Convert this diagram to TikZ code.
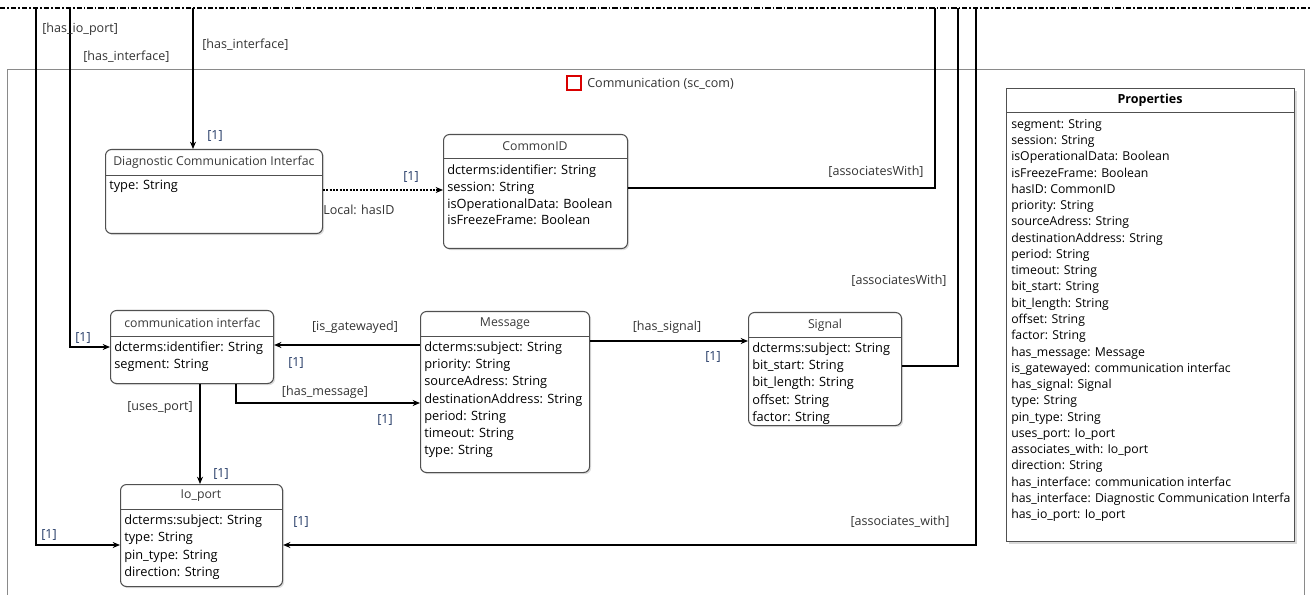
\documentclass[tikz,border=0pt]{standalone}
\usepackage{fontspec}
\setmainfont{Open Sans}
\usetikzlibrary{arrows.meta,shadows}
\definecolor{edgegray}{HTML}{505050}
\definecolor{titlegray}{HTML}{3A3A3A}
\definecolor{labelgray}{HTML}{333333}
\definecolor{multblue}{HTML}{243A66}
\definecolor{framegray}{HTML}{8A8A8A}
\tikzset{
  umlbox/.style={draw=edgegray, line width=0.8pt, rounded corners=4.5pt, fill=white,
    inner sep=0pt, anchor=north west,
    drop shadow={shadow xshift=1.2pt, shadow yshift=-1.2pt, opacity=0.25}},
  propbox/.style={draw=edgegray, line width=0.8pt, fill=white, inner sep=0pt, anchor=north west,
    drop shadow={shadow xshift=1.5pt, shadow yshift=-1.5pt, opacity=0.3}},
  divider/.style={draw=edgegray, line width=0.6pt},
  boxtitle/.style={inner sep=0pt, text=titlegray, font=\fontsize{9.2}{11}\selectfont},
  attr/.style={inner sep=0pt, anchor=base west, text=black, font=\fontsize{9.6}{11}\selectfont},
  pattr/.style={attr, font=\fontsize{9.2}{11}\selectfont},
  lbl/.style={inner sep=0pt, text=labelgray, font=\fontsize{9.4}{11}\selectfont},
  mult/.style={inner sep=0pt, text=multblue, font=\fontsize{9.4}{11}\selectfont},
  conn/.style={draw=black, line width=1.5pt},
  arr/.style={conn, -{Stealth[length=5.5pt,width=4.5pt]}},
}
\begin{document}
\begin{tikzpicture}[x=0.75pt,y=-0.75pt]
\useasboundingbox (0,0) rectangle (1310,595);

% package frame and its header
\draw[framegray, line width=0.7pt] (7,600) -- (7,69) -- (1304,69) -- (1304,600);
\node[draw=red!85!black, line width=1.4pt, minimum size=11pt, inner sep=0pt] (pkgicon) at (574,83) {};
\node[lbl, anchor=west] (pkgname) at (587,84) {Communication (sc\_com)};

% top boundary
\draw[black, line width=1.2pt, dash pattern=on 4pt off 1.5pt on 1.2pt off 1.5pt] (0,8) -- (1310,8);

% classes
\node[umlbox, minimum width=217*0.75pt, minimum height=84*0.75pt] (diag) at (105,149) {};
\node[umlbox, minimum width=184*0.75pt, minimum height=114*0.75pt] (cid) at (443,134) {};
\node[umlbox, minimum width=163*0.75pt, minimum height=73*0.75pt] (ci) at (110,310) {};
\node[umlbox, minimum width=169*0.75pt, minimum height=161*0.75pt] (msg) at (420,311) {};
\node[umlbox, minimum width=153*0.75pt, minimum height=113*0.75pt] (sig) at (748,312) {};
\node[umlbox, minimum width=162*0.75pt, minimum height=102*0.75pt] (io) at (120,484) {};
\node[propbox, minimum width=288*0.75pt, minimum height=453*0.75pt] (props) at (1006,88) {};

% compartment dividers
\draw[divider] (105,175) -- (322,175);
\draw[divider] (443,158) -- (627,158);
\draw[divider] (110,336) -- (273,336);
\draw[divider] (420,336) -- (589,336);
\draw[divider] (748,337) -- (901,337);
\draw[divider] (120,509) -- (282,509);
\draw[divider] (1006,112) -- (1294,112);

% class names (long names are cut at the box edge)
\begin{scope}
  \clip (106,150) rectangle (321,174);
  \node[boxtitle, anchor=west] (diagT) at (113,162) {Diagnostic Communication Interfac};
\end{scope}
\begin{scope}
  \clip (111,311) rectangle (270,335);
  \node[boxtitle, anchor=west] (ciT) at (124,323) {communication interfac};
\end{scope}
\node[boxtitle] (cidT) at (535,146) {CommonID};
\node[boxtitle] (msgT) at (505,324) {Message};
\node[boxtitle] (sigT) at (825,325) {Signal};
\node[boxtitle] (ioT) at (201,496) {Io\_port};
\node[boxtitle, text=black, font=\fontsize{9.4}{11}\selectfont\bfseries] (propsT) at (1150,100) {Properties};

% attributes
\node[attr] (diagA) at (109,189.5) {type: String};
\foreach \t [count=\i from 0] in {dcterms:identifier: String, session: String,
    isOperationalData: Boolean, isFreezeFrame: Boolean}
  \node[attr] (cidA\i) at (447,174.5+16.8*\i) {\t};
\foreach \t [count=\i from 0] in {dcterms:identifier: String, segment: String}
  \node[attr] (ciA\i) at (114,351.5+17*\i) {\t};
\foreach \t [count=\i from 0] in {dcterms:subject: String, priority: String,
    sourceAdress: String, destinationAddress: String, period: String,
    timeout: String, type: String}
  \node[attr] (msgA\i) at (424,351.5+17.2*\i) {\t};
\foreach \t [count=\i from 0] in {dcterms:subject: String, bit\_start: String,
    bit\_length: String, offset: String, factor: String}
  \node[attr] (sigA\i) at (752,352.5+17.2*\i) {\t};
\foreach \t [count=\i from 0] in {dcterms:subject: String, type: String,
    pin\_type: String, direction: String}
  \node[attr] (ioA\i) at (124,524.5+17.3*\i) {\t};
\begin{scope}
  \clip (1007,113) rectangle (1293,540);
  \foreach \t [count=\i from 0] in {segment: String, session: String,
      isOperationalData: Boolean, isFreezeFrame: Boolean, hasID: CommonID,
      priority: String, sourceAdress: String, destinationAddress: String,
      period: String, timeout: String, bit\_start: String, bit\_length: String,
      offset: String, factor: String, has\_message: Message,
      is\_gatewayed: communication interfac, has\_signal: Signal, type: String,
      pin\_type: String, uses\_port: Io\_port, associates\_with: Io\_port,
      direction: String, has\_interface: communication interfac,
      has\_interface: Diagnostic Communication Interfa, has\_io\_port: Io\_port}
    \node[pattr] (pA\i) at (1011,128.5+16.25*\i) {\t};
\end{scope}

% connectors entering from above
\coordinate (srcIo) at (36,8);
\coordinate (srcCi) at (70,8);
\coordinate (srcDiag) at (193,8);
\coordinate (srcCid) at (935,8);
\coordinate (srcSig) at (958,8);
\coordinate (srcIoR) at (976,8);

\draw[arr] (srcIo) |- (io.west |- 0,545);
\draw[arr] (srcCi) |- (ci.west |- 0,347);
\draw[arr] (srcDiag) -- (srcDiag |- diag.north);
\draw[conn] (srcCid) |- (cid.east |- 0,188);
\draw[conn] (srcSig) |- (sig.east |- 0,366);
\draw[arr] (srcIoR) |- (io.east |- 0,545);

% connectors between classes
\draw[conn, densely dotted, -{Stealth[length=5.5pt,width=4.5pt]}] (diag.east |- 0,190) -- (cid.west |- 0,190);
\draw[arr] (msg.west |- 0,345) -- (ci.east |- 0,345);
\draw[arr] (ci.south -| 236,0) |- (msg.west |- 0,403);
\draw[arr] (ci.south -| 200,0) -- (io.north -| 200,0);
\draw[arr] (msg.east |- 0,341) -- (sig.west |- 0,341);

% connector labels
\node[lbl, anchor=west] (lHasIo) at (42,29) {[has\_io\_port]};
\node[lbl, anchor=west] (lHasCi) at (83,57) {[has\_interface]};
\node[lbl, anchor=west] (lHasDiag) at (202,45) {[has\_interface]};
\node[lbl] (lAssoc1) at (876,172) {[associatesWith]};
\node[lbl] (lAssoc2) at (899,281) {[associatesWith]};
\node[lbl] (lAssoc3) at (900,522) {[associates\_with]};
\node[lbl, anchor=west] (lHasId) at (323,210) {Local: hasID};
\node[lbl] (lGate) at (355,327) {[is\_gatewayed]};
\node[lbl] (lHasMsg) at (325,392) {[has\_message]};
\node[lbl] (lUses) at (160,408) {[uses\_port]};
\node[lbl] (lHasSig) at (667,327) {[has\_signal]};

% multiplicities
\node[mult] (m1) at (215,136) {[1]};
\node[mult] (m2) at (411,177) {[1]};
\node[mult] (m3) at (83,338) {[1]};
\node[mult] (m4) at (296,363) {[1]};
\node[mult] (m5) at (385,420) {[1]};
\node[mult] (m6) at (713,357) {[1]};
\node[mult] (m7) at (221,474) {[1]};
\node[mult] (m8) at (49,535) {[1]};
\node[mult] (m9) at (301,522) {[1]};
\end{tikzpicture}
\end{document}
